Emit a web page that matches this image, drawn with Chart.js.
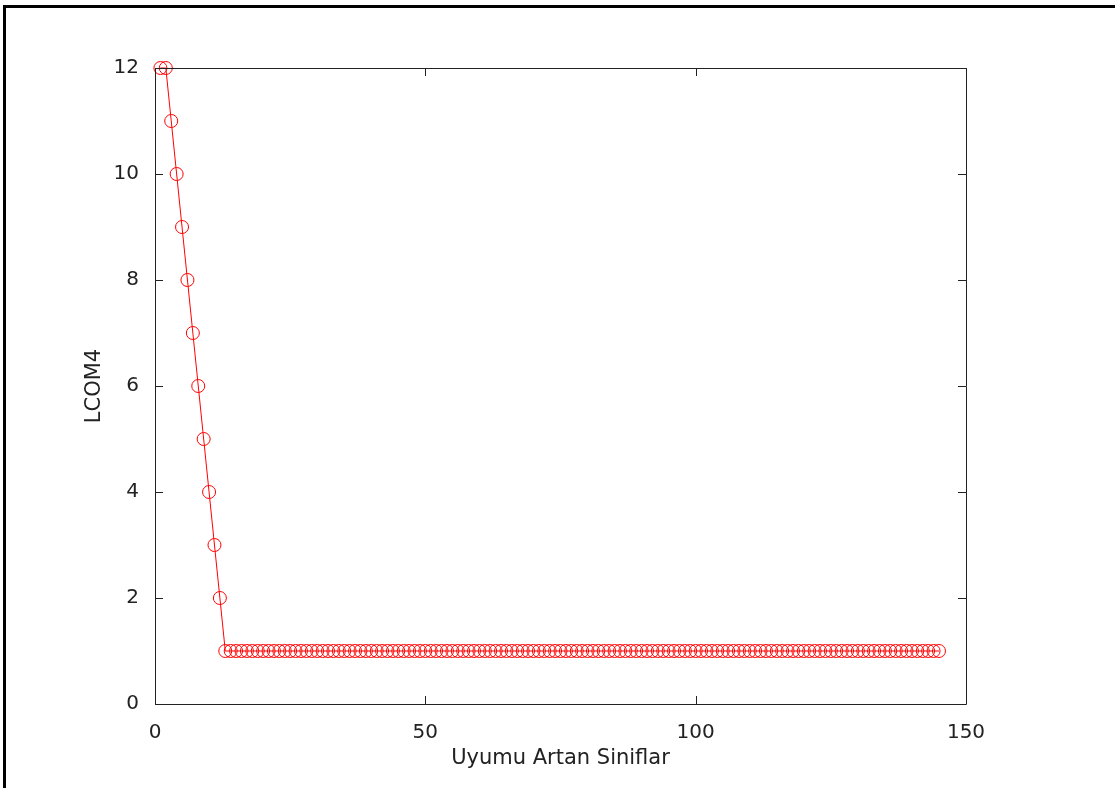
<!DOCTYPE html>
<html>
<head>
<meta charset="utf-8">
<script src="https://cdn.jsdelivr.net/npm/chart.js@4/dist/chart.umd.min.js"></script>
<style>
  html, body { margin: 0; padding: 0; background: #fff; }
  canvas { display: block; }
</style>
</head>
<body>
<canvas id="grafico" width="1115" height="788"></canvas>
<script>
// LCOM4 değerleri, sınıf sırasına göre (1..145)
const lcom4 = [
  12, 12, 11, 10, 9, 8, 7, 6, 5, 4, 3, 2,
  1, 1, 1, 1, 1, 1, 1, 1, 1, 1, 1, 1, 1, 1, 1, 1, 1, 1, 1,
  1, 1, 1, 1, 1, 1, 1, 1, 1, 1, 1, 1, 1, 1, 1, 1, 1, 1, 1,
  1, 1, 1, 1, 1, 1, 1, 1, 1, 1, 1, 1, 1, 1, 1, 1, 1, 1, 1,
  1, 1, 1, 1, 1, 1, 1, 1, 1, 1, 1, 1, 1, 1, 1, 1, 1, 1, 1,
  1, 1, 1, 1, 1, 1, 1, 1, 1, 1, 1, 1, 1, 1, 1, 1, 1, 1, 1,
  1, 1, 1, 1, 1, 1, 1, 1, 1, 1, 1, 1, 1, 1, 1, 1, 1, 1, 1,
  1, 1, 1, 1, 1, 1, 1, 1, 1, 1, 1, 1, 1, 1, 1, 1, 1, 1, 1
];
const xTicks = [0, 50, 100, 150];
const yTicks = [0, 2, 4, 6, 8, 10, 12];

const FONT = { family: "'DejaVu Sans', sans-serif", size: 20 };
const TITLE_FONT = { family: "'DejaVu Sans', sans-serif", size: 21 };
const INK = '#222';

// caixa do eixo + ticks para dentro (estilo MATLAB) + moldura externa
const matlabBox = {
  id: 'matlabBox',
  afterDatasetsDraw(chart) {
    const { ctx, chartArea: a, scales: { x, y } } = chart;
    const L = 8;
    ctx.save();
    ctx.strokeStyle = INK;
    ctx.lineWidth = 1;
    ctx.beginPath();
    ctx.rect(Math.round(a.left) + 0.5, Math.round(a.top) + 0.5,
             Math.round(a.right - a.left), Math.round(a.bottom - a.top));
    xTicks.forEach(v => {
      const px = Math.round(x.getPixelForValue(v)) + 0.5;
      ctx.moveTo(px, a.bottom); ctx.lineTo(px, a.bottom - L);
      ctx.moveTo(px, a.top); ctx.lineTo(px, a.top + L);
    });
    yTicks.forEach(v => {
      const py = Math.round(y.getPixelForValue(v)) + 0.5;
      ctx.moveTo(a.left, py); ctx.lineTo(a.left + L, py);
      ctx.moveTo(a.right, py); ctx.lineTo(a.right - L, py);
    });
    ctx.stroke();
    ctx.restore();
  },
  afterDraw(chart) {
    const ctx = chart.ctx;
    ctx.save();
    ctx.fillStyle = '#000';
    ctx.fillRect(3, 5, 3, chart.height - 5);
    ctx.fillRect(3, 5, chart.width - 3, 3);
    ctx.restore();
  }
};

new Chart(document.getElementById('grafico'), {
  type: 'line',
  data: {
    datasets: [{
      data: lcom4.map((v, i) => ({ x: i + 1, y: v })),
      borderColor: '#ff0000',
      borderWidth: 1,
      pointStyle: 'circle',
      pointRadius: 6.5,
      pointBorderWidth: 1,
      pointBorderColor: '#ff0000',
      pointBackgroundColor: 'rgba(0,0,0,0)',
      tension: 0,
      clip: false
    }]
  },
  options: {
    responsive: false,
    animation: false,
    events: [],
    layout: { padding: { top: 68, right: 149, left: 0, bottom: 0 } },
    plugins: { legend: { display: false }, tooltip: { enabled: false } },
    scales: {
      x: {
        type: 'linear',
        min: 0, max: 150,
        afterFit: s => { s.height = 84; },
        afterBuildTicks: s => { s.ticks = xTicks.map(v => ({ value: v })); },
        ticks: { color: INK, font: FONT, padding: 9, maxRotation: 0 },
        grid: { display: false },
        border: { display: false },
        title: { display: true, text: 'Uyumu Artan Siniflar', color: INK, font: TITLE_FONT, padding: { top: 0, bottom: 17 } }
      },
      y: {
        min: 0, max: 12,
        afterFit: s => { s.width = 155; },
        afterBuildTicks: s => { s.ticks = yTicks.map(v => ({ value: v })); },
        ticks: { color: INK, font: FONT, padding: 8 },
        grid: { display: false },
        border: { display: false },
        title: { display: true, text: 'LCOM4', color: INK, font: TITLE_FONT, padding: { top: 82, bottom: 0 } }
      }
    }
  },
  plugins: [matlabBox]
});
</script>
</body>
</html>
